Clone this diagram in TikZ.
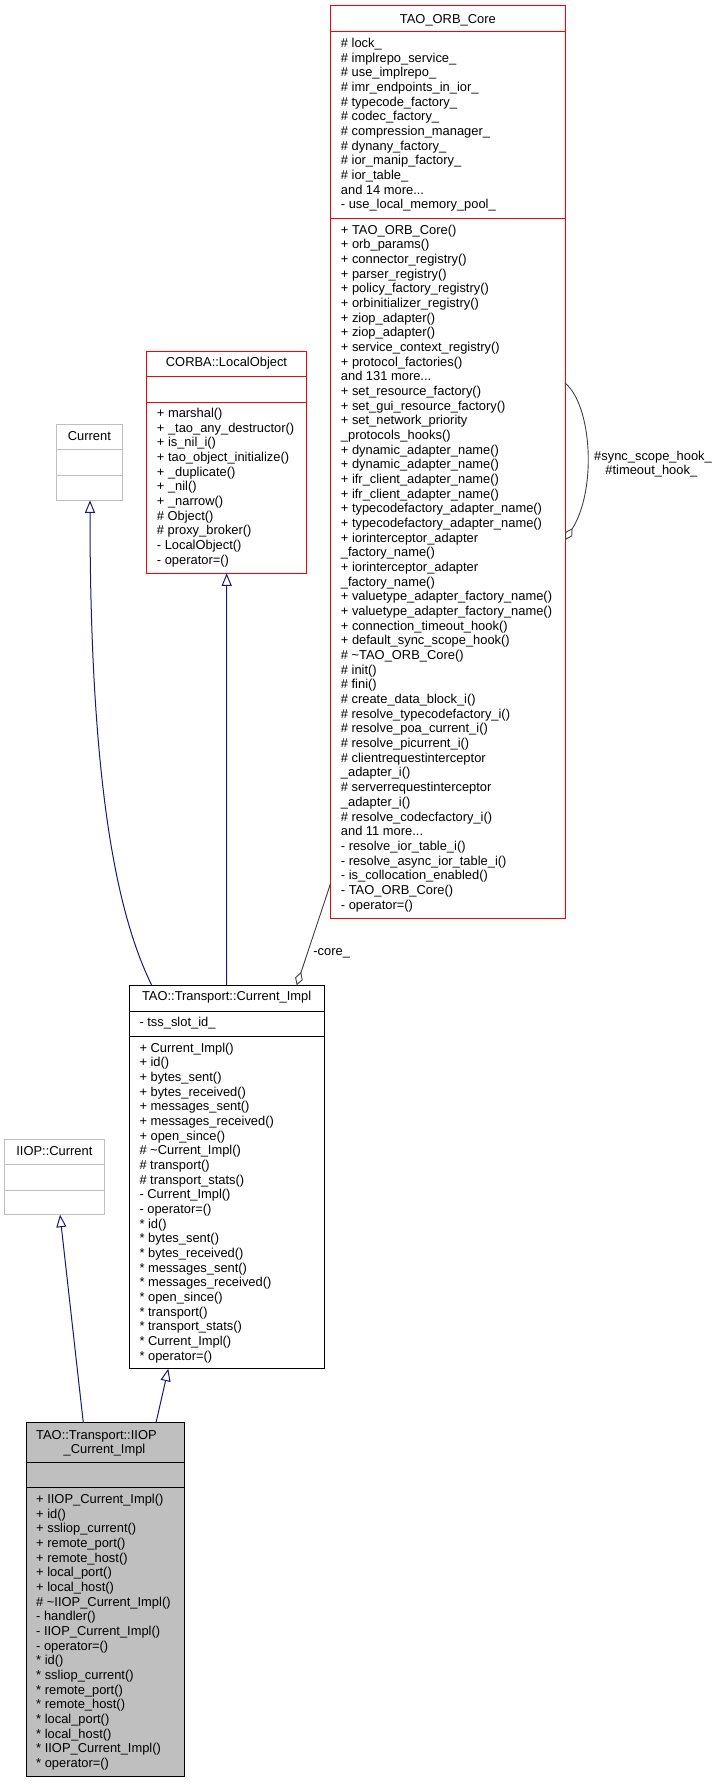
\documentclass[tikz,border=0pt]{standalone}
\usepackage{fontspec}
\setmainfont{Liberation Sans}
\usetikzlibrary{arrows.meta}
\definecolor{navy}{HTML}{191970}
\definecolor{dgrey}{HTML}{404040}
\definecolor{lgrey}{HTML}{BFBFBF}
\definecolor{boxred}{HTML}{FF0000}
\newcommand\dfont{\fontsize{12.9}{14.67}\selectfont}
\newcommand\mdots{...}
\newcommand\mlist[4]{\foreach \t [count=\i from 0] in {#4} {\node[memb] (#3\i) at (#1,{#2+\i*14.67+4.2}) {\t};}}
\begin{document}
\begin{tikzpicture}[x=1pt,y=-1pt,font=\dfont,
  memb/.style={anchor=base west,inner sep=0pt},
  ttl/.style={anchor=base,inner sep=0pt},
  cls/.style={anchor=north west,inner sep=0pt,outer sep=0pt,line width=1pt},
  sepl/.style={line width=1pt},
  inh/.style={draw=navy,line width=1pt,-{Triangle[open,length=12.5pt,width=10pt]}},
  comp/.style={draw=dgrey,line width=0.9pt,-{Diamond[open,length=14pt,width=8pt]}},
  elab/.style={anchor=base,inner sep=0pt}]
\useasboundingbox (0,0) rectangle (719,1784);

% ---------- TAO_ORB_Core ----------
\node[cls,draw=boxred,minimum width=234.3pt,minimum height=912.3pt] (orb) at (330.7,6) {};
\draw[sepl,boxred] ([yshift=-26pt]orb.north west) -- ([yshift=-26pt]orb.north east);
\draw[sepl,boxred] ([yshift=-212.7pt]orb.north west) -- ([yshift=-212.7pt]orb.north east);
\node[ttl] (orbt) at (447.85,23.2) {TAO\_ORB\_Core};
\mlist{340.7}{43.3}{orba}{\# lock\_, \# implrepo\_service\_, \# use\_implrepo\_, \# imr\_endpoints\_in\_ior\_, \# typecode\_factory\_, \# codec\_factory\_, \# compression\_manager\_, \# dynany\_factory\_, \# ior\_manip\_factory\_, \# ior\_table\_, and 14 more\mdots, - use\_local\_memory\_pool\_}
\mlist{340.7}{230}{orbm}{+ TAO\_ORB\_Core(), + orb\_params(), + connector\_registry(), + parser\_registry(), + policy\_factory\_registry(), + orbinitializer\_registry(), + ziop\_adapter(), + ziop\_adapter(), + service\_context\_registry(), + protocol\_factories(), and 131 more\mdots, + set\_resource\_factory(), + set\_gui\_resource\_factory(), + set\_network\_priority, \_protocols\_hooks(), + dynamic\_adapter\_name(), + dynamic\_adapter\_name(), + ifr\_client\_adapter\_name(), + ifr\_client\_adapter\_name(), + typecodefactory\_adapter\_name(), + typecodefactory\_adapter\_name(), + iorinterceptor\_adapter, \_factory\_name(), + iorinterceptor\_adapter, \_factory\_name(), + valuetype\_adapter\_factory\_name(), + valuetype\_adapter\_factory\_name(), + connection\_timeout\_hook(), + default\_sync\_scope\_hook(), \# \textasciitilde TAO\_ORB\_Core(), \# init(), \# fini(), \# create\_data\_block\_i(), \# resolve\_typecodefactory\_i(), \# resolve\_poa\_current\_i(), \# resolve\_picurrent\_i(), \# clientrequestinterceptor, \_adapter\_i(), \# serverrequestinterceptor, \_adapter\_i(), \# resolve\_codecfactory\_i(), and 11 more\mdots, - resolve\_ior\_table\_i(), - resolve\_async\_ior\_table\_i(), - is\_collocation\_enabled(), - TAO\_ORB\_Core(), - operator=()}

% ---------- CORBA::LocalObject ----------
\node[cls,draw=boxred,minimum width=160pt,minimum height=221.6pt] (lobj) at (146.7,351.7) {};
\draw[sepl,boxred] ([yshift=-24.6pt]lobj.north west) -- ([yshift=-24.6pt]lobj.north east);
\draw[sepl,boxred] ([yshift=-50.6pt]lobj.north west) -- ([yshift=-50.6pt]lobj.north east);
\node[ttl] (lobjt) at (226.5,366.9) {CORBA::LocalObject};
\mlist{156.7}{413.3}{lobjm}{+ marshal(), + \_tao\_any\_destructor(), + is\_nil\_i(), + tao\_object\_initialize(), + \_duplicate(), + \_nil(), + \_narrow(), \# Object(), \# proxy\_broker(), - LocalObject(), - operator=()}

% ---------- Current ----------
\node[cls,draw=lgrey,minimum width=65.3pt,minimum height=75.6pt] (cur) at (56.7,424.7) {};
\draw[sepl,lgrey] ([yshift=-24.6pt]cur.north west) -- ([yshift=-24.6pt]cur.north east);
\draw[sepl,lgrey] ([yshift=-50.6pt]cur.north west) -- ([yshift=-50.6pt]cur.north east);
\node[ttl] (curt) at (89.35,440.9) {Current};

% ---------- TAO::Transport::Current_Impl ----------
\node[cls,draw=black,minimum width=194.7pt,minimum height=383.4pt] (cimpl) at (129.3,985.3) {};
\draw[sepl] ([yshift=-25.7pt]cimpl.north west) -- ([yshift=-25.7pt]cimpl.north east);
\draw[sepl] ([yshift=-50.7pt]cimpl.north west) -- ([yshift=-50.7pt]cimpl.north east);
\node[ttl] (cimplt) at (226.6,1000.2) {TAO::Transport::Current\_Impl};
\node[memb] (cimpla0) at (139.3,1026.9) {- tss\_slot\_id\_};
\mlist{139.3}{1048}{cimplm}{+ Current\_Impl(), + id(), + bytes\_sent(), + bytes\_received(), + messages\_sent(), + messages\_received(), + open\_since(), \# \textasciitilde Current\_Impl(), \# transport(), \# transport\_stats(), - Current\_Impl(), - operator=(), * id(), * bytes\_sent(), * bytes\_received(), * messages\_sent(), * messages\_received(), * open\_since(), * transport(), * transport\_stats(), * Current\_Impl(), * operator=()}

% ---------- IIOP::Current ----------
\node[cls,draw=lgrey,minimum width=100.7pt,minimum height=75.4pt] (icur) at (4,1139.3) {};
\draw[sepl,lgrey] ([yshift=-25pt]icur.north west) -- ([yshift=-25pt]icur.north east);
\draw[sepl,lgrey] ([yshift=-50.7pt]icur.north west) -- ([yshift=-50.7pt]icur.north east);
\node[ttl] (icurt) at (54.35,1155.9) {IIOP::Current};

% ---------- TAO::Transport::IIOP_Current_Impl ----------
\node[cls,draw=black,fill=lgrey,minimum width=158.3pt,minimum height=354pt] (iimpl) at (26,1422.7) {};
\draw[sepl] ([yshift=-39.6pt]iimpl.north west) -- ([yshift=-39.6pt]iimpl.north east);
\draw[sepl] ([yshift=-65pt]iimpl.north west) -- ([yshift=-65pt]iimpl.north east);
\node[memb] (iimplt1) at (36,1439.2) {TAO::Transport::IIOP};
\node[ttl] (iimplt2) at (104.5,1453.2) {\_Current\_Impl};
\mlist{36}{1499.3}{iimplm}{+ IIOP\_Current\_Impl(), + id(), + ssliop\_current(), + remote\_port(), + remote\_host(), + local\_port(), + local\_host(), \# \textasciitilde IIOP\_Current\_Impl(), - handler(), - IIOP\_Current\_Impl(), - operator=(), * id(), * ssliop\_current(), * remote\_port(), * remote\_host(), * local\_port(), * local\_host(), * IIOP\_Current\_Impl(), * operator=()}

% ---------- connectors ----------
\draw[inh] ([xshift=-21.85pt]iimpl.north) -- ([xshift=5.65pt]icur.south);
\draw[inh] ([xshift=50.85pt]iimpl.north) -- ([xshift=-58.35pt]cimpl.south);
\draw[inh] ([xshift=-74.95pt]cimpl.north) .. controls (120,920) and (90,800) .. ([xshift=0.65pt]cur.south);
\draw[inh] (cimpl.north) -- (lobj.south);
\draw[comp] ([yshift=35.3pt]orb.south west) -- ([xshift=70.05pt]cimpl.north);
\node[elab] (corel) at (331.7,955.2) {-core\_};
\draw[comp] ([yshift=-377pt]orb.north east) .. controls (592,405) and (597,490) .. ([yshift=-534pt]orb.north east);
\node[elab] (hookl1) at (653,460.9) {\#sync\_scope\_hook\_};
\node[elab] (hookl2) at (651.3,474.2) {\#timeout\_hook\_};
\end{tikzpicture}
\end{document}
